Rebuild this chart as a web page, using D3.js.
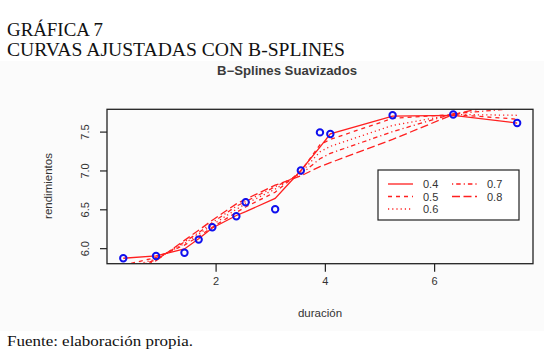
<!DOCTYPE html>
<html><head><meta charset="utf-8">
<script src="https://cdn.jsdelivr.net/npm/d3@7"></script>
<style>body{margin:0;background:#fff}svg{display:block}</style>
</head><body>
<script>
// ---- data ----
const duracion = [0.31, 0.91, 1.43, 1.69, 1.94, 2.38, 2.55, 3.09, 3.56, 3.91, 4.10, 5.24, 6.35, 7.52];
const rendimientos = [5.87, 5.90, 5.94, 6.11, 6.27, 6.41, 6.59, 6.50, 7.00, 7.49, 7.47, 7.71, 7.72, 7.61];
const spars = ["0.4", "0.5", "0.6", "0.7", "0.8"];
const fit04 = [5.87, 5.90, 5.99, 6.12, 6.26, 6.42, 6.47, 6.64, 7.00, 7.30, 7.47, 7.70, 7.71, 7.61];
const fit05 = [5.78, 5.88, 6.04, 6.15, 6.27, 6.46, 6.53, 6.72, 6.99, 7.33, 7.40, 7.67, 7.72, 7.66];
const fit06 = [5.74, 5.86, 6.06, 6.18, 6.30, 6.50, 6.57, 6.76, 6.97, 7.24, 7.31, 7.58, 7.72, 7.71];
const fit07 = [5.70, 5.85, 6.08, 6.20, 6.33, 6.54, 6.60, 6.79, 6.95, 7.15, 7.22, 7.50, 7.73, 7.80];
const fit08 = [5.66, 5.84, 6.10, 6.23, 6.36, 6.57, 6.63, 6.81, 6.93, 7.05, 7.10, 7.40, 7.72, 7.90];
const xTicks = [2, 4, 6];
const yTicks = [6.0, 6.5, 7.0, 7.5];

const fits = [fit04, fit05, fit06, fit07, fit08];
const dashes = [null, "4,4", "1.2,3", "1.2,3,4.5,3", "8,3.5"];

const W = 544, H = 356;
const svg = d3.select("body").append("svg").attr("width", W).attr("height", H);
svg.append("rect").attr("x",0).attr("y",0).attr("width",W).attr("height",H).attr("fill","#fff");
svg.append("rect").attr("x",0).attr("y",61).attr("width",W).attr("height",270).attr("fill","#fbfbfb");

const L = 107, R = 533, T = 109.3, B = 263.7;
const x = d3.scaleLinear().domain([0.012, 7.81]).range([L, R]);
const y = d3.scaleLinear().domain([5.80, 7.787]).range([B, T]);

// header text
svg.append("text").attr("x",7).attr("y",36).attr("font-family","Liberation Serif, serif")
  .attr("font-size",18).attr("fill","#111").attr("textLength",96).attr("lengthAdjust","spacingAndGlyphs").text("GRÁFICA 7");
svg.append("text").attr("x",7).attr("y",56).attr("font-family","Liberation Serif, serif")
  .attr("font-size",18).attr("fill","#111").attr("textLength",338).attr("lengthAdjust","spacingAndGlyphs").text("CURVAS AJUSTADAS CON B-SPLINES");
svg.append("text").attr("x",7).attr("y",346).attr("font-family","Liberation Serif, serif")
  .attr("font-size",14.5).attr("fill","#111").attr("textLength",186).attr("lengthAdjust","spacingAndGlyphs").text("Fuente: elaboración propia.");

// chart title
svg.append("text").attr("x",217).attr("y",75).attr("font-family","Liberation Sans, Arial, sans-serif")
  .attr("font-size",12).attr("font-weight","bold").attr("fill","#3a3a3a")
  .attr("textLength",140).attr("lengthAdjust","spacingAndGlyphs").text("B\u2212Splines Suavizados");

// clip
svg.append("clipPath").attr("id","clip").append("rect")
  .attr("x",L).attr("y",T).attr("width",R-L).attr("height",B-T);

const line = d3.line().x((d,i)=>x(duracion[i])).y(d=>y(d));
const g = svg.append("g").attr("clip-path","url(#clip)");
fits.forEach((f,k)=>{
  g.append("path").attr("d", line(f)).attr("fill","none").attr("stroke","#ff2020")
    .attr("stroke-width",1.3).attr("stroke-dasharray", dashes[k]);
});
g.selectAll("circle.pt").data(duracion).enter().append("circle")
  .attr("cx",d=>x(d)).attr("cy",(d,i)=>y(rendimientos[i])).attr("r",3.2)
  .attr("fill","none").attr("stroke","#1010ee").attr("stroke-width",2);

// axes
const xAxis = d3.axisBottom(x).tickValues(xTicks).tickFormat(d3.format("d")).tickSize(8).tickPadding(6);
const gx = svg.append("g").attr("transform",`translate(0,${B})`).call(xAxis);
gx.select(".domain").remove();
gx.selectAll("line").attr("stroke","#222").attr("stroke-width",1.2);
gx.selectAll("text").attr("font-family","Liberation Sans, Arial, sans-serif").attr("font-size",11).attr("fill","#333");

const yAxis = d3.axisLeft(y).tickValues(yTicks).tickFormat(d3.format(".1f")).tickSize(7);
const gy = svg.append("g").attr("transform",`translate(${L},0)`).call(yAxis);
gy.select(".domain").remove();
gy.selectAll("line").attr("stroke","#222").attr("stroke-width",1.2);
gy.selectAll("text").attr("font-family","Liberation Sans, Arial, sans-serif").attr("font-size",11).attr("fill","#333")
  .attr("x",0).attr("dy",null).attr("text-anchor","middle")
  .attr("transform","translate(-22,0) rotate(-90)").attr("dominant-baseline","central");

svg.append("rect").attr("x",L).attr("y",T).attr("width",R-L).attr("height",B-T)
  .attr("fill","none").attr("stroke","#222").attr("stroke-width",1.3);

// axis labels
svg.append("text").attr("x",320).attr("y",317).attr("text-anchor","middle")
  .attr("font-family","Liberation Sans, Arial, sans-serif").attr("font-size",11.5).attr("fill","#333").text("duración");
svg.append("text").attr("transform","translate(52,186) rotate(-90)").attr("text-anchor","middle")
  .attr("font-family","Liberation Sans, Arial, sans-serif").attr("font-size",11.5).attr("fill","#333").text("rendimientos");

// legend
const lg = svg.append("g");
lg.append("rect").attr("x",378).attr("y",170).attr("width",141).attr("height",50)
  .attr("fill","#fff").attr("stroke","#222").attr("stroke-width",1.2);
const legPos = [[388,184],[388,196.5],[388,209],[452,184],[452,196.5]];
spars.forEach((s,k)=>{
  const [lx,ly] = legPos[k];
  lg.append("line").attr("x1",lx).attr("x2",lx+25).attr("y1",ly).attr("y2",ly)
    .attr("stroke","#ff2020").attr("stroke-width",1.3).attr("stroke-dasharray",dashes[k]);
  lg.append("text").attr("x",lx+35).attr("y",ly).attr("dominant-baseline","central")
    .attr("font-family","Liberation Sans, Arial, sans-serif").attr("font-size",11).attr("fill","#333").text(s);
});
</script>
</body></html>
